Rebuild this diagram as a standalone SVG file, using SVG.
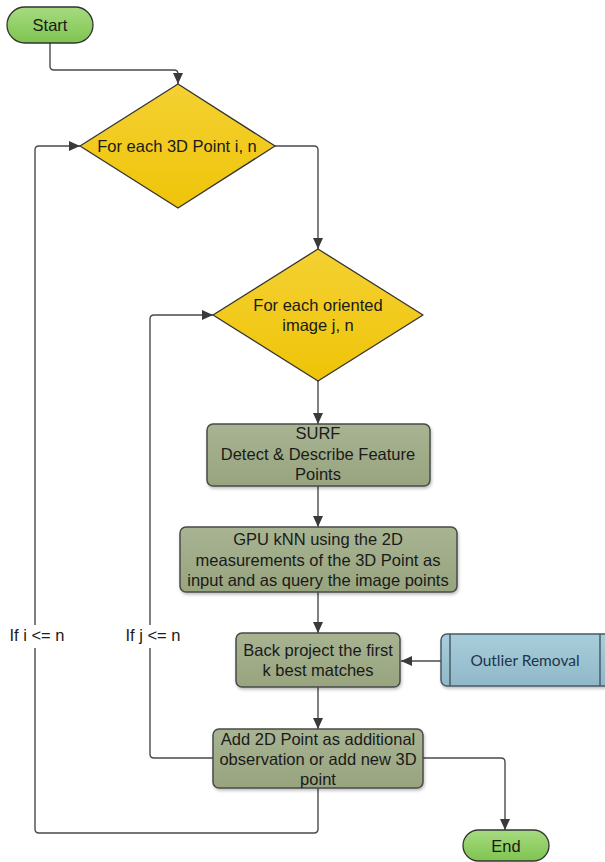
<svg xmlns="http://www.w3.org/2000/svg" width="605" height="862" viewBox="0 0 605 862">
<style>
  .t { font-family: "Liberation Sans", Arial, sans-serif; font-size: 16.5px; fill: #1a1a1a; text-anchor: middle; }
  .lbl { font-family: "Liberation Sans", Arial, sans-serif; font-size: 16.5px; fill: #1a1a1a; text-anchor: middle; }
  .t2 { font-family: Lato, "Open Sans", sans-serif; font-size: 15.5px; fill: #1e3448; text-anchor: middle; }
  .term { fill: url(#gGreen); stroke: #333333; stroke-width: 1.3; }
  .dec { fill: url(#gYellow); stroke: #333333; stroke-width: 1.3; stroke-linejoin: round; }
  .proc { fill: url(#gOlive); stroke: #4a4a4a; stroke-width: 1.5; filter: url(#sh); }
  .pre { fill: url(#gBlue); stroke: #4a5a66; stroke-width: 1.5; filter: url(#sh); }
  .conn { fill: none; stroke: #4a4a4a; stroke-width: 1.4; marker-end: url(#arr); }
</style>
<defs>
  <linearGradient id="gGreen" x1="0" y1="0" x2="0" y2="1">
    <stop offset="0" stop-color="#a6db80"/>
    <stop offset="1" stop-color="#7fc450"/>
  </linearGradient>
  <linearGradient id="gYellow" x1="0" y1="0" x2="0" y2="1">
    <stop offset="0" stop-color="#f4d133"/>
    <stop offset="1" stop-color="#efc408"/>
  </linearGradient>
  <linearGradient id="gOlive" x1="0" y1="0" x2="0" y2="1">
    <stop offset="0" stop-color="#a8b492"/>
    <stop offset="1" stop-color="#97a47e"/>
  </linearGradient>
  <linearGradient id="gBlue" x1="0" y1="0" x2="0" y2="1">
    <stop offset="0" stop-color="#a9cedb"/>
    <stop offset="1" stop-color="#8fb8c8"/>
  </linearGradient>
  <filter id="sh" x="-10%" y="-10%" width="120%" height="130%">
    <feDropShadow dx="1" dy="2" stdDeviation="1.5" flood-color="#000" flood-opacity="0.25"/>
  </filter>
  <marker id="arr" markerUnits="userSpaceOnUse" markerWidth="12" markerHeight="12" viewBox="0 0 12 12" refX="11" refY="6" orient="auto">
    <path d="M0,1 L11,6 L0,11 Z" fill="#3a3a3a"/>
  </marker>
</defs>

<g id="connectors">
  <path class="conn" d="M50,43 V66 Q50,70 54,70 H174 Q178,70 178,74 V84"/>
  <path class="conn" d="M274,146 H314 Q318,146 318,150 V249"/>
  <path class="conn" d="M318,381 V424"/>
  <path class="conn" d="M318,486 V527"/>
  <path class="conn" d="M318,592 V633"/>
  <path class="conn" d="M441,661 H401"/>
  <path class="conn" d="M318,687 V729"/>
  <path class="conn" d="M213,758 H154 Q150,758 150,754 V648 M150,625 V319 Q150,315 154,315 H213"/>
  <path class="conn" d="M318,788 V829 Q318,833 314,833 H39 Q35,833 35,829 V648 M35,625 V150 Q35,146 39,146 H80"/>
  <path class="conn" d="M423,758 H501 Q505,758 505,762 V830"/>
</g>

<g id="start">
  <rect class="term" x="7" y="7" width="86" height="36" rx="18"/>
  <text class="t" x="50" y="31">Start</text>
</g>

<g id="loop-points">
  <path class="dec" d="M178,84 L275,146 L178,208 L80,146 Z"/>
  <text class="t" x="177" y="152">For each 3D Point i, n</text>
</g>

<g id="loop-images">
  <path class="dec" d="M318,249 L423,315 L318,381 L213,315 Z"/>
  <text class="t" x="318" y="311">For each oriented</text>
  <text class="t" x="318" y="331">image j, n</text>
</g>

<g id="surf">
  <rect class="proc" x="207" y="424" width="223" height="62" rx="6"/>
  <text class="t" x="318" y="439">SURF</text>
  <text class="t" x="318" y="460">Detect &amp; Describe Feature</text>
  <text class="t" x="318" y="480">Points</text>
</g>

<g id="knn">
  <rect class="proc" x="180" y="527" width="277" height="65" rx="6"/>
  <text class="t" x="318" y="545">GPU kNN using the 2D</text>
  <text class="t" x="318" y="566">measurements of the 3D Point as</text>
  <text class="t" x="318" y="586">input and as query the image points</text>
</g>

<g id="backproject">
  <rect class="proc" x="236" y="633" width="164" height="54" rx="6"/>
  <text class="t" x="318" y="656">Back project the first</text>
  <text class="t" x="318" y="676">k best matches</text>
</g>

<g id="outlier">
  <rect class="pre" x="441" y="634" width="180" height="52" rx="6"/>
  <line x1="450" y1="634" x2="450" y2="686" stroke="#4a5a66" stroke-width="1.5"/>
  <line x1="600" y1="634" x2="600" y2="686" stroke="#4a5a66" stroke-width="1.5"/>
  <text class="t2" x="525" y="666">Outlier Removal</text>
</g>

<g id="addpoint">
  <rect class="proc" x="213" y="729" width="210" height="59" rx="6"/>
  <text class="t" x="318" y="745">Add 2D Point as additional</text>
  <text class="t" x="318" y="765">observation or add new 3D</text>
  <text class="t" x="318" y="785">point</text>
</g>

<g id="end">
  <rect class="term" x="463" y="830" width="86" height="31" rx="15.5"/>
  <text class="t" x="506" y="852">End</text>
</g>

<g id="labels">
  <text class="lbl" x="37" y="641">If i &lt;= n</text>
  <text class="lbl" x="153" y="641">If j &lt;= n</text>
</g>
</svg>
